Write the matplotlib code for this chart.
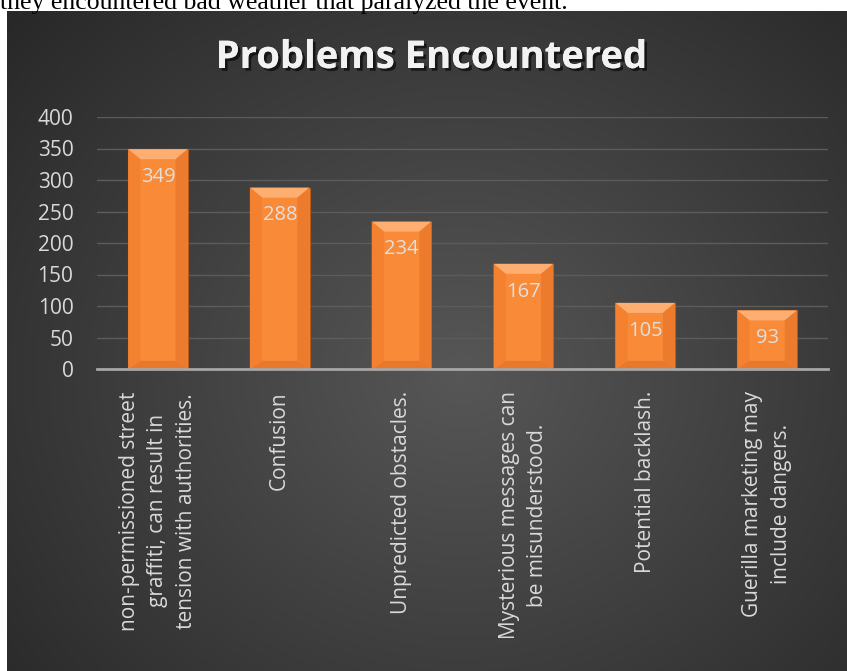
import numpy as np
import matplotlib
matplotlib.use("Agg")
import matplotlib.pyplot as plt
import matplotlib.patheffects as pe
from matplotlib.patches import Polygon

# ── data ──────────────────────────────────────────────────────────────────────
categories = [
    "non-permissioned street\ngraffiti, can result in\ntension with authorities.",
    "Confusion",
    "Unpredicted obstacles.",
    "Mysterious messages can\nbe misunderstood.",
    "Potential backlash.",
    "Guerilla marketing may\ninclude dangers.",
]
values = [349, 288, 234, 167, 105, 93]
y_ticks = [0, 50, 100, 150, 200, 250, 300, 350, 400]

TITLE = "Problems Encountered"
CAPTION = "they encountered bad weather that paralyzed the event."

LABEL_GREY = "#d9d9d9"
ORANGE = "#f88a38"

plt.rcParams["font.family"] = ["Open Sans", "DejaVu Sans"]

W, H = 847, 671
fig = plt.figure(figsize=(W / 100, H / 100), dpi=100, facecolor="white")

# cut-off line of body text above the chart
fig.text(0.0, 1 - 9 / H, CAPTION, family="Liberation Serif", fontsize=18.5,
         color="black", ha="left", va="baseline")

# ── dark radial-gradient panel ────────────────────────────────────────────────
bg = fig.add_axes([7 / W, 0, 840 / W, 660 / H])
bg.set_axis_off()
gx, gy = np.meshgrid(np.linspace(0, 1, 400), np.linspace(0, 1, 320))
r = np.sqrt(((gx - 0.54) / 0.75) ** 2 + ((gy - 0.55) / 0.85) ** 2)
shade = np.clip(0.34 - 0.19 * r, 0.15, 0.34)
bg.imshow(np.dstack([shade, shade, shade]), aspect="auto", extent=(0, 1, 0, 1),
          interpolation="bilinear")
bg.set_xlim(0, 1)
bg.set_ylim(0, 1)

# ── plot area ─────────────────────────────────────────────────────────────────
ax = fig.add_axes([97 / W, 1 - 369 / H, (828 - 97) / W, (369 - 117) / H])
ax.patch.set_alpha(0)

x = np.arange(len(values))
bw = 0.49
bars = ax.bar(x, values, width=bw, color=ORANGE, edgecolor="#b65a1c",
              linewidth=0.8, zorder=3)

# bevel effect on each bar
dx, dy = 0.1, 16
for xi, v in zip(x, values):
    l, rr = xi - bw / 2, xi + bw / 2
    ax.add_patch(Polygon([(l, v), (rr, v), (rr - dx, v - dy), (l + dx, v - dy)],
                         closed=True, color="#fdae70", zorder=4, lw=0))
    ax.add_patch(Polygon([(l, 0), (rr, 0), (rr - dx, dy * 0.8), (l + dx, dy * 0.8)],
                         closed=True, color="#e8782c", zorder=4, lw=0))
    ax.add_patch(Polygon([(l, 0), (l + dx, dy * 0.8), (l + dx, v - dy), (l, v)],
                         closed=True, color="#f3812f", zorder=4, lw=0))
    ax.add_patch(Polygon([(rr, 0), (rr - dx, dy * 0.8), (rr - dx, v - dy), (rr, v)],
                         closed=True, color="#ec7b2d", zorder=4, lw=0))
    ax.text(xi, v - 44, str(v), ha="center", va="center", fontsize=14.5,
            color="#e0e0e0", zorder=5)

ax.set_xlim(-0.5, len(values) - 0.5)
ax.set_ylim(0, 400)
ax.set_yticks(y_ticks)
ax.set_yticklabels([str(t) for t in y_ticks], fontsize=15, color=LABEL_GREY)
ax.tick_params(axis="y", length=0, pad=17)
ax.set_xticks(x)
ax.set_xticklabels(categories, rotation=90, ha="center", va="top",
                   multialignment="center", fontsize=15, color=LABEL_GREY,
                   linespacing=1.45)
ax.tick_params(axis="x", length=0, pad=16)

ax.grid(axis="y", color="#5c5c5c", linewidth=1.0, zorder=0)
for s in ["top", "right", "left"]:
    ax.spines[s].set_visible(False)
ax.spines["bottom"].set_color("#a6a6a6")
ax.spines["bottom"].set_linewidth(2)
ax.spines["bottom"].set_zorder(6)

# title with soft shadow
fig.text(432 / W, 1 - 58 / H, TITLE, ha="center", va="center", fontsize=27.5,
         fontweight="bold", color="#f2f2f2",
         path_effects=[pe.withSimplePatchShadow(offset=(2, -2), shadow_rgbFace="black",
                                                alpha=0.6), pe.Normal()])

fig.savefig("out.png", dpi=100, facecolor="white")
